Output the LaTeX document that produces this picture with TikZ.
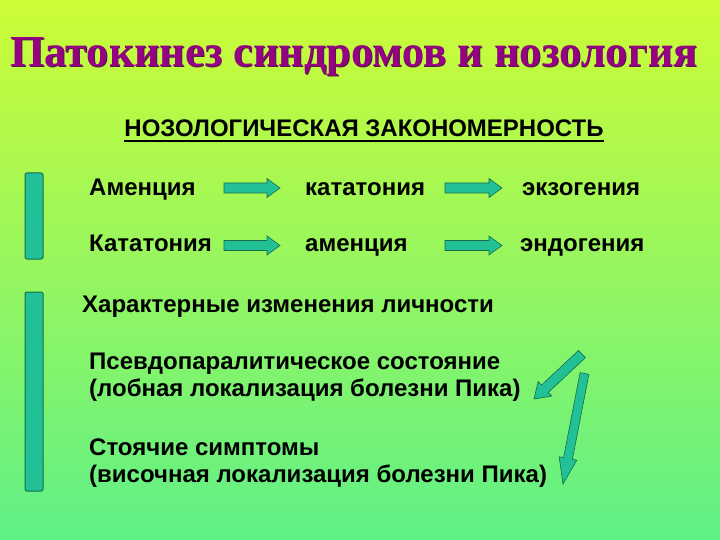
\documentclass[tikz,border=0pt]{standalone}
\usepackage{fontspec}
\setmainfont{Liberation Sans}
\newfontfamily\titlefont{Liberation Serif}
\usetikzlibrary{calc}
\definecolor{bgtop}{RGB}{205,252,55}
\definecolor{bgbot}{RGB}{95,240,135}
\definecolor{titlepurple}{RGB}{150,0,130}
\definecolor{titleshade}{RGB}{80,30,70}
\definecolor{tealfill}{RGB}{34,192,150}
\definecolor{tealline}{RGB}{20,110,75}
\newcommand{\blockarrow}[5]{%
  \filldraw[blockarr]
    ($(#1)!#3!90:(#2)$) --
    ($($(#2)!#5!(#1)$)!#3!90:(#2)$) --
    ($($(#2)!#5!(#1)$)!#4!90:(#2)$) --
    (#2) --
    ($($(#2)!#5!(#1)$)!#4!-90:(#2)$) --
    ($($(#2)!#5!(#1)$)!#3!-90:(#2)$) --
    ($(#1)!#3!-90:(#2)$) -- cycle;}
\newcommand{\titletext}{\resizebox{687pt}{29pt}{Патокинез синдромов и нозология}}

\begin{document}
\begin{tikzpicture}[x=1pt, y=-1pt,
    txt/.style={anchor=base west, inner sep=0pt, font=\bfseries\fontsize{24}{28}\selectfont},
    head/.style={anchor=base, inner sep=0pt, font=\titlefont\bfseries},
    bar/.style={draw=tealline, fill=tealfill, line width=1pt, rounded corners=2pt},
    blockarr/.style={draw=tealline, fill=tealfill, line width=0.6pt, line join=miter}]
  \fill[top color=bgtop, bottom color=bgbot] (0,0) rectangle (720,540);
  \useasboundingbox (0,0) rectangle (720,540);

  \node[head, text=titleshade] (titleshadow) at (354.8,67.8) {\titletext};
  \node[head, text=titlepurple] (title) at (354,67) {\titletext};
  \node[anchor=base, inner sep=0pt, font=\bfseries] (law) at (364,136.5)
    {\resizebox{479pt}{!}{НОЗОЛОГИЧЕСКАЯ ЗАКОНОМЕРНОСТЬ}};
  \draw[line width=2.8pt] ([yshift=-4.5pt]law.base west) -- ([yshift=-4.5pt]law.base east);

  \draw[bar] (25,173) rectangle (43,259);
  \draw[bar] (25,292) rectangle (43,491);

  \node[txt] (amen1) at (89,196) {Аменция};
  \node[txt] (kat1) at (305,196) {кататония};
  \node[txt] (exo) at (522,196) {экзогения};
  \node[txt] (kat2) at (89,251.5) {Кататония};
  \node[txt] (amen2) at (305,251.5) {аменция};
  \node[txt] (endo) at (520,251.5) {эндогения};

  \coordinate (r1a) at (224,188);   \coordinate (r1b) at (280,188);
  \coordinate (r1c) at (445,188);   \coordinate (r1d) at (502,188);
  \coordinate (r2a) at (224,245.5); \coordinate (r2b) at (280,245.5);
  \coordinate (r2c) at (445,245.5); \coordinate (r2d) at (502,245.5);
  \blockarrow{r1a}{r1b}{5pt}{9.5pt}{13pt}
  \blockarrow{r1c}{r1d}{5pt}{9.5pt}{13pt}
  \blockarrow{r2a}{r2b}{5pt}{9.5pt}{13pt}
  \blockarrow{r2c}{r2d}{5pt}{9.5pt}{13pt}

  \node[txt] (pers) at (82,312) {Характерные изменения личности};
  \node[txt] (pseudo) at (89,369) {Псевдопаралитическое состояние};
  \node[txt] (front) at (89,396) {(лобная локализация болезни Пика)};
  \node[txt] (stand) at (89,455) {Стоячие симптомы};
  \node[txt] (temp) at (89,482) {(височная локализация болезни Пика)};

  \coordinate (d1s) at (582,354); \coordinate (d1t) at (534,399);
  \coordinate (d2s) at (584.5,373.5); \coordinate (d2t) at (563,484);
  \blockarrow{d1s}{d1t}{5pt}{10pt}{15pt}
  \blockarrow{d2s}{d2t}{4.5pt}{9pt}{26pt}
\end{tikzpicture}
\end{document}
